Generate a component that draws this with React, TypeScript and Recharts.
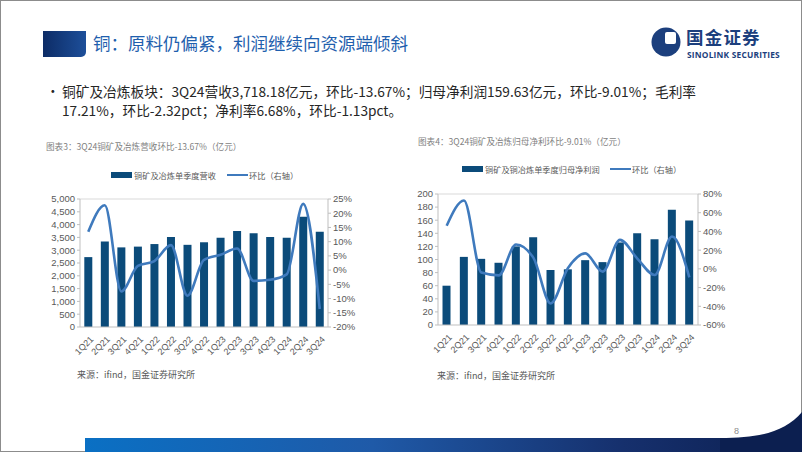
import React from 'react'
import {
  ComposedChart,
  Bar,
  Line,
  XAxis,
  YAxis,
  ReferenceLine
} from 'recharts'

const quarters = ['1Q21', '2Q21', '3Q21', '4Q21', '1Q22', '2Q22', '3Q22', '4Q22', '1Q23', '2Q23', '3Q23', '4Q23', '1Q24', '2Q24', '3Q24']

// 铜矿及冶炼单季度营收（亿元）
const revenue = [2730, 3340, 3110, 3140, 3240, 3520, 3210, 3310, 3490, 3750, 3660, 3520, 3490, 4310, 3718.18]
// 环比（%）
const revenueQoq = [13.5, 22.8, -7.5, 1.5, 3.2, 8.8, -9.0, 3.6, 5.4, 7.6, -3.8, -3.4, -1.5, 23.3, -13.67]

// 铜矿及铜冶炼单季度归母净利润（亿元）
const profit = [60, 104, 101, 95, 120, 134, 84, 85, 99, 96, 126, 140, 131, 176, 159.63]
const profitQoq = [46, 73, -4, -7, 26, 12, -37, 1, 16.5, -3, 31, 11, -6.5, 34.5, -9.01]

const revenueTicks = [0, 500, 1000, 1500, 2000, 2500, 3000, 3500, 4000, 4500, 5000]
const revenuePctTicks = [-20, -15, -10, -5, 0, 5, 10, 15, 20, 25]
const profitTicks = [0, 20, 40, 60, 80, 100, 120, 140, 160, 180, 200]
const profitPctTicks = [-60, -40, -20, 0, 20, 40, 60, 80]

const BAR = '#0b4b7a'
const LINE = '#3f7abd'
const AXIS = '#bfbfbf'
const TXT = '#595959'
const NUM_FONT = '"Liberation Sans", Arial, "Noto Sans CJK SC", sans-serif'
const CJK_FONT = '"Noto Sans CJK SC", "Noto Sans", sans-serif'

const revenueData = quarters.map((q, i) => ({ q, v: revenue[i], r: revenueQoq[i] }))
const profitData = quarters.map((q, i) => ({ q, v: profit[i], r: profitQoq[i] }))

const RotTick = ({ x, y, payload }: any) => (
  <g transform={`translate(${x + 3},${y + 2})`}>
    <text x={0} y={0} dy={4} textAnchor="end" transform="rotate(-45)" fontSize={9} fill={TXT} fontFamily={NUM_FONT}>
      {payload.value}
    </text>
  </g>
)

const tickStyle = { fontSize: 9.5, fill: TXT, fontFamily: NUM_FONT }

function DualChart({ data, leftTicks, rightTicks, leftWidth, width, height, leftFmt }: any) {
  const lmax = leftTicks[leftTicks.length - 1]
  return (
    <ComposedChart width={width} height={height} data={data} margin={{ top: 9, right: 6, bottom: 6, left: 0 }} barCategoryGap="26%">
      <XAxis dataKey="q" interval={0} tick={<RotTick />} tickLine={false} axisLine={{ stroke: AXIS }} height={37} />
      <YAxis yAxisId="left" domain={[0, lmax]} ticks={leftTicks} interval={0} width={leftWidth}
        tick={tickStyle} tickFormatter={leftFmt} tickSize={3} tickLine={{ stroke: AXIS }} axisLine={{ stroke: AXIS }} />
      <YAxis yAxisId="right" orientation="right" domain={[rightTicks[0], rightTicks[rightTicks.length - 1]]}
        ticks={rightTicks} interval={0} width={36} tick={tickStyle} tickFormatter={(v: number) => `${v}%`}
        tickSize={3} tickLine={{ stroke: AXIS }} axisLine={{ stroke: AXIS }} />
      <ReferenceLine yAxisId="left" y={lmax} stroke="#d9d9d9" />
      <Bar yAxisId="left" dataKey="v" fill={BAR} isAnimationActive={false} />
      <Line yAxisId="right" dataKey="r" type="monotone" stroke={LINE} strokeWidth={2.6} dot={false} isAnimationActive={false} />
    </ComposedChart>
  )
}

function Legend({ left, top, barLabel, lineLeft }: any) {
  const t = { position: 'absolute' as const, top: top - 6, fontSize: 8.2, color: TXT, fontFamily: CJK_FONT, lineHeight: '12px', whiteSpace: 'nowrap' as const }
  return (
    <>
      <div style={{ position: 'absolute', left, top: top - 3, width: 21, height: 6, background: BAR }} />
      <div style={{ ...t, left: left + 23 }}>{barLabel}</div>
      <div style={{ position: 'absolute', left: lineLeft, top: top - 1.3, width: 21, height: 2.6, background: LINE }} />
      <div style={{ ...t, left: lineLeft + 22 }}>环比（右轴）</div>
    </>
  )
}

const abs = (left: number, top: number, extra: any = {}) => ({ position: 'absolute' as const, left, top, whiteSpace: 'nowrap' as const, ...extra })

export default function App() {
  return (
    <div style={{ position: 'absolute', left: 0, top: 0, width: 802, height: 452, background: '#fff', overflow: 'hidden', fontFamily: CJK_FONT }}>
      <div style={{ position: 'absolute', left: 0, top: 0, width: 800, height: 450, border: '1px solid #8c8c8c' }} />

      {/* header */}
      <div style={{ position: 'absolute', left: 43, top: 31, width: 43, height: 26, borderBottomRightRadius: 5, background: 'linear-gradient(90deg,#0d2c66,#1d4f9a)' }} />
      <div style={abs(93, 31, { fontSize: 17.5, lineHeight: '24px', color: '#1f5fae' })}>铜：原料仍偏紧，利润继续向资源端倾斜</div>

      <svg style={{ position: 'absolute', left: 650, top: 26 }} width={34} height={34}>
        <circle cx={16} cy={16} r={14.5} fill="#1c3f7d" />
        <rect x={15} y={6} width={11} height={12} rx={2} fill="#fff" />
      </svg>
      <div style={abs(686, 28, { fontSize: 17.5, lineHeight: '18px', fontWeight: 700, color: '#1c3f7d', letterSpacing: 1.2 })}>国金证券</div>
      <div style={abs(687, 50, { fontSize: 8.4, lineHeight: '9px', fontWeight: 700, color: '#1c3f7d', letterSpacing: 0.2, fontFamily: '"Open Sans", "Liberation Sans", sans-serif' })}>SINOLINK SECURITIES</div>

      <div style={abs(46, 82, { fontSize: 13.7, lineHeight: '16px', color: '#262626' })}>•</div>
      <div style={abs(62, 83, { fontSize: 13.7, lineHeight: '16px', color: '#262626' })}>
        铜矿及冶炼板块：3Q24营收3,718.18亿元，环比-13.67%；归母净利润159.63亿元，环比-9.01%；毛利率
      </div>
      <div style={abs(62, 102, { fontSize: 13.7, lineHeight: '16px', color: '#262626' })}>
        17.21%，环比-2.32pct；净利率6.68%，环比-1.13pct。
      </div>

      {/* chart 3 */}
      <div style={abs(46, 140, { fontSize: 8.6, lineHeight: '12px', color: '#7f7f7f' })}>图表3：3Q24铜矿及冶炼营收环比-13.67%（亿元）</div>
      <Legend left={111} top={175} barLabel="铜矿及冶炼单季度营收" lineLeft={227} />
      <div style={{ position: 'absolute', left: 30, top: 190 }}>
        <DualChart data={revenueData} leftTicks={revenueTicks} rightTicks={revenuePctTicks} leftWidth={50}
          width={340} height={180} leftFmt={(v: number) => v.toLocaleString('en-US')} />
      </div>
      <div style={abs(77, 369, { fontSize: 9, lineHeight: '12px', color: TXT })}>来源：ifind，国金证券研究所</div>

      {/* chart 4 */}
      <div style={abs(418, 135, { fontSize: 8.6, lineHeight: '12px', color: '#7f7f7f' })}>图表4：3Q24铜矿及冶炼归母净利环比-9.01%（亿元）</div>
      <Legend left={462} top={169} barLabel="铜矿及铜冶炼单季度归母净利润" lineLeft={610} />
      <div style={{ position: 'absolute', left: 400, top: 185 }}>
        <DualChart data={profitData} leftTicks={profitTicks} rightTicks={profitPctTicks} leftWidth={38}
          width={340} height={183} leftFmt={(v: number) => `${v}`} />
      </div>
      <div style={abs(437, 370, { fontSize: 9, lineHeight: '12px', color: TXT })}>来源：ifind，国金证券研究所</div>

      {/* footer */}
      <div style={{ position: 'absolute', left: 85, top: 438, width: 717, height: 14, background: 'linear-gradient(90deg,#0a70c4 0%,#1f5aa8 40%,#16306d 75%,#0c1f50 100%)' }} />
      <svg style={{ position: 'absolute', left: 700, top: 400 }} width={102} height={52}>
        <path d="M 20 38 C 60 38 85 32 102 12 L 102 52 L 20 52 Z" fill="#0c1f50" />
      </svg>
      <div style={abs(734, 425, { fontSize: 9, lineHeight: '12px', color: '#8c8c8c', fontFamily: NUM_FONT })}>8</div>
    </div>
  )
}
